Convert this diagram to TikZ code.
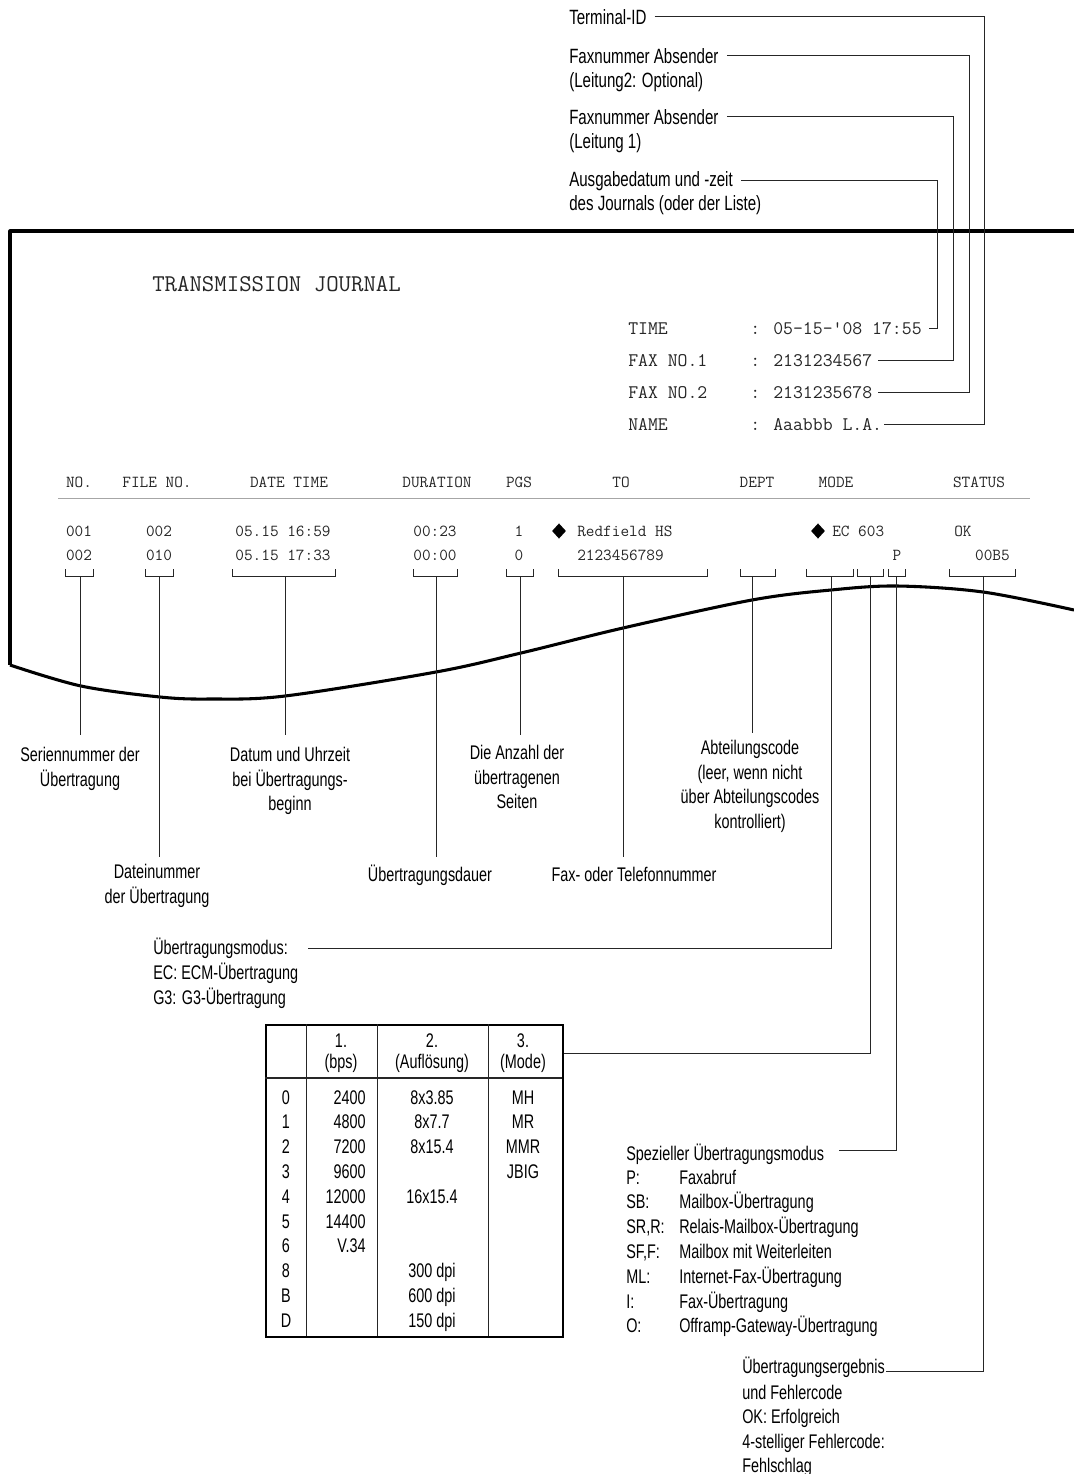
\documentclass[tikz,border=0pt]{standalone}
\usepackage{fontspec}
\setmainfont{Liberation Sans}[FakeStretch=0.73]
\usetikzlibrary{shapes.geometric,calc}
\newcommand\brkt[4]{%
  \draw[brk] (#2,569) -- (#2,576) -- (#3,576) -- (#3,569);
  \coordinate (#1) at (#4,576);}
\begin{document}
\begin{tikzpicture}[x=0.75pt,y=-0.75pt,
  paperline/.style={line width=2.3pt, line join=round},
  lead/.style={line width=0.65pt, black!85},
  brk/.style={line width=0.65pt, black!85},
  tline/.style={line width=0.7pt, black!85},
  toptxt/.style={font={\fontsize{15.5}{18.4}\selectfont}, inner sep=0pt, anchor=base west},
  lbl/.style={font={\fontsize{14.8}{18.4}\selectfont\lineskiplimit=-30pt}, align=center, inner sep=0pt, anchor=north, execute at begin node=\strut},
  lbltxt/.style={font={\fontsize{14.8}{18.4}\selectfont}, inner sep=0pt, anchor=base west},
  tcell/.style={font={\fontsize{14.8}{18.4}\selectfont}, inner sep=0pt, anchor=base},
  ttitle/.style={font={\ttfamily\fontsize{18.1}{20}\selectfont}, text=black!85, inner sep=0pt, anchor=base west},
  tinfo/.style={font={\ttfamily\fontsize{14.4}{16}\selectfont}, text=black!85, inner sep=0pt, anchor=base west},
  ttab/.style={font={\ttfamily\fontsize{12.6}{14}\selectfont}, text=black!85, inner sep=0pt, anchor=base},
  dmd/.style={diamond, fill=black, inner sep=0pt, minimum width=10.5pt, minimum height=11.5pt}]
\useasboundingbox (0,0) rectangle (1074,1474);

% ---------- top callouts ----------
\node[toptxt] (tid)  at (569,24)  {Terminal-ID};
\node[toptxt] (fa2a) at (569,63)  {Faxnummer Absender};
\node[toptxt] (fa2b) at (569,87)  {(Leitung2: Optional)};
\node[toptxt] (fa1a) at (569,124) {Faxnummer Absender};
\node[toptxt] (fa1b) at (569,148) {(Leitung 1)};
\node[toptxt] (ausa) at (569,186) {Ausgabedatum und -zeit};
\node[toptxt] (ausb) at (569,210) {des Journals (oder der Liste)};

% ---------- paper ----------
\draw[paperline] (1074,231) -- (10,231) -- (10,665);
\draw[paperline] plot[smooth, tension=0.55] coordinates {(10,665) (81,686) (160,697) (210,699) (285,696) (436,672) (521,653) (623,628) (752,600) (831,590) (897,586) (983,592) (1074,610)};

% ---------- journal header ----------
\node[ttitle] (title) at (152,291) {TRANSMISSION JOURNAL};
\node[tinfo] (kTime) at (628,334) {TIME};
\node[tinfo] (vTime) at (750,334) {: 05-15-'08 17:55};
\node[tinfo] (kF1)   at (628,366) {FAX NO.1};
\node[tinfo] (vF1)   at (750,366) {: 2131234567};
\node[tinfo] (kF2)   at (628,398) {FAX NO.2};
\node[tinfo] (vF2)   at (750,398) {: 2131235678};
\node[tinfo] (kName) at (628,430) {NAME};
\node[tinfo] (vName) at (750,430) {: Aaabbb L.A.};

\coordinate (xT)  at (984,0);
\coordinate (xF2) at (969,0);
\coordinate (xF1) at (953,0);
\coordinate (xA)  at (937,0);
\draw[lead] ([xshift=6pt]tid.east)  -| (xT |- vName.east)  -- ([xshift=1pt]vName.east);
\draw[lead] ([xshift=6pt]fa2a.east) -| (xF2 |- vF2.east) -- ([xshift=4pt]vF2.east);
\draw[lead] ([xshift=6pt]fa1a.east) -| (xF1 |- vF1.east) -- ([xshift=4pt]vF1.east);
\draw[lead] ([xshift=6pt]ausa.east) -| (xA |- vTime.east) -- ([xshift=5pt]vTime.east);

% ---------- table columns ----------
\node[ttab] (hNo)  at (79,487)  {NO.};
\node[ttab] (hFi)  at (157,487) {FILE NO.};
\node[ttab] (hDT)  at (289,487) {DATE TIME};
\node[ttab] (hDu)  at (437,487) {DURATION};
\node[ttab] (hPg)  at (519,487) {PGS};
\node[ttab] (hTo)  at (621,487) {TO};
\node[ttab] (hDe)  at (757,487) {DEPT};
\node[ttab] (hMo)  at (836,487) {MODE};
\node[ttab] (hSt)  at (979,487) {STATUS};
\draw[black!35, line width=0.7pt] (58,498) -- (1030,498);

\node[ttab] (a1) at (79,536)  {001};
\node[ttab] (a2) at (159,536) {002};
\node[ttab] (a3) at (283,536) {05.15 16:59};
\node[ttab] (a4) at (435,536) {00:23};
\node[ttab] (a5) at (519,536) {1};
\node[dmd]  (d1) at (559,531) {};
\node[ttab, anchor=base west] (a6) at (577,536) {Redfield HS};
\node[dmd]  (d2) at (818,531) {};
\node[ttab, anchor=base west] (a7) at (832,536) {EC 603};
\node[ttab, anchor=base west] (a8) at (954,536) {OK};

\node[ttab] (b1) at (79,560)  {002};
\node[ttab] (b2) at (159,560) {010};
\node[ttab] (b3) at (283,560) {05.15 17:33};
\node[ttab] (b4) at (435,560) {00:00};
\node[ttab] (b5) at (519,560) {0};
\node[ttab, anchor=base west] (b6) at (577,560) {2123456789};
\node[ttab] (b7) at (897,560) {P};
\node[ttab, anchor=base east] (b8) at (1010,560) {00B5};

% ---------- brackets ----------
\brkt{bNO}{65}{93}{80}
\brkt{bFI}{145}{173}{159}
\brkt{bDT}{232}{335}{285}
\brkt{bDU}{413}{457}{436}
\brkt{bPG}{506}{533}{520}
\brkt{bTO}{558}{707}{623}
\brkt{bDE}{740}{775}{752}
\brkt{bM1}{806}{853}{831}
\brkt{bM2}{857}{883}{870}
\brkt{bM3}{888}{905}{896}
\brkt{bST}{949}{1015}{983}

% ---------- bottom labels ----------
\node[lbl] (lSer) at (80,747)  {Seriennummer der\\Übertragung};
\node[lbl] (lFi)  at (157,864) {Dateinummer\\der Übertragung};
\node[lbl] (lDT)  at (290,747) {Datum und Uhrzeit\\bei Übertragungs-\\beginn};
\node[lbl] (lDu)  at (430,864) {Übertragungsdauer};
\node[lbl] (lPg)  at (517,745) {Die Anzahl der\\übertragenen\\Seiten};
\node[lbl] (lTo)  at (634,864) {Fax- oder Telefonnummer};
\node[lbl] (lDe)  at (750,740) {Abteilungscode\\(leer, wenn nicht\\über Abteilungscodes\\kontrolliert)};

\coordinate (eNO) at (80,735);
\coordinate (eFI) at (159,857);
\coordinate (eDT) at (285,735);
\coordinate (eDU) at (436,857);
\coordinate (ePG) at (520,735);
\coordinate (eTO) at (623,857);
\coordinate (eDE) at (752,733);
\draw[lead] (bNO) -- (eNO);
\draw[lead] (bFI) -- (eFI);
\draw[lead] (bDT) -- (eDT);
\draw[lead] (bDU) -- (eDU);
\draw[lead] (bPG) -- (ePG);
\draw[lead] (bTO) -- (eTO);
\draw[lead] (bDE) -- (eDE);

% ---------- transmission mode ----------
\node[lbltxt] (lMo) at (153,954) {Übertragungsmodus:};
\node[lbl, anchor=north west, align=left] (lMo2) at (153,963) {EC: ECM-Übertragung\\G3: G3-Übertragung};
\coordinate (eM1) at (308,948);
\draw[lead] (bM1) |- (eM1);

% ---------- code table ----------
\node[draw, line width=1.3pt, inner sep=0pt, minimum width=222.75pt, minimum height=234pt, anchor=north west] (tbl) at (265,1024) {};
\draw[tline] (306,1024) -- (306,1336);
\draw[tline] (377,1024) -- (377,1336);
\draw[tline] (488,1024) -- (488,1336);
\draw[line width=0.9pt, black!85] (265,1078) -- (562,1078);
\node[tcell] (h1a) at (341,1047) {1.};
\node[tcell] (h1b) at (341,1068) {(bps)};
\node[tcell] (h2a) at (432,1047) {2.};
\node[tcell] (h2b) at (432,1068) {(Auflösung)};
\node[tcell] (h3a) at (523,1047) {3.};
\node[tcell] (h3b) at (523,1068) {(Mode)};
\foreach \k/\b/\r/\m [count=\i from 0] in {0/2400/8x3.85/MH, 1/4800/8x7.7/MR, 2/7200/8x15.4/MMR, 3/9600//JBIG, 4/12000/16x15.4/, 5/14400//, 6/V.34//, 8//300 dpi/, B//600 dpi/, D//150 dpi/}{
  \node[tcell] (rk\i) at (286,{1104+24.8*\i}) {\k};
  \node[tcell, anchor=base east] (rb\i) at (366,{1104+24.8*\i}) {\b};
  \node[tcell] (rr\i) at (432,{1104+24.8*\i}) {\r};
  \node[tcell] (rm\i) at (523,{1104+24.8*\i}) {\m};
}
\coordinate (tY) at (0,1053);
\draw[lead] (bM2) |- (tbl.east |- tY);

% ---------- special mode ----------
\node[lbltxt] (sp) at (626,1160) {Spezieller Übertragungsmodus};
\coordinate (eM3) at (839,1150);
\draw[lead] (bM3) |- (eM3);
\foreach \k/\d [count=\i from 0] in {P:/Faxabruf, SB:/Mailbox-Übertragung, {SR,R:}/Relais-Mailbox-Übertragung, {SF,F:}/Mailbox mit Weiterleiten, ML:/Internet-Fax-Übertragung, I:/Fax-Übertragung, O:/Offramp-Gateway-Übertragung}{
  \node[lbltxt] (sk\i) at (626,{1184+24.8*\i}) {\k};
  \node[lbltxt] (sd\i) at (679,{1184+24.8*\i}) {\d};
}

% ---------- result ----------
\node[lbltxt] (res) at (742,1373) {Übertragungsergebnis};
\node[lbl, anchor=north west, align=left] (res2) at (742,1384.5) {und Fehlercode\\OK: Erfolgreich\\4-stelliger Fehlercode:\\Fehlschlag};
\draw[lead] (bST) |- ([xshift=1pt,yshift=1.5pt]res.base east);
\end{tikzpicture}
\end{document}
